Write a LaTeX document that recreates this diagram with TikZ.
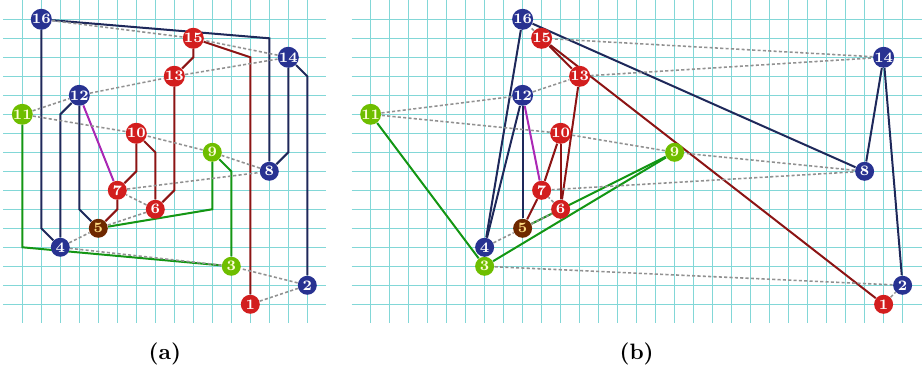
\documentclass[tikz,border=0pt]{standalone}
\usepackage{xcolor}
\usepackage{tikz}
\usetikzlibrary{backgrounds}
\definecolor{gridcyan}{RGB}{130, 215, 215}
\definecolor{navyedge}{RGB}{30, 40, 90}
\definecolor{navynode}{RGB}{40, 50, 145}
\definecolor{rededge}{RGB}{140, 20, 20}
\definecolor{rednode}{RGB}{210, 30, 30}
\definecolor{greenedge}{RGB}{20, 150, 20}
\definecolor{limenode}{RGB}{110, 190, 0}
\definecolor{brownnode}{RGB}{110, 40, 0}
\definecolor{purpleedge}{RGB}{170, 40, 180}
\definecolor{dotgray}{RGB}{145, 145, 145}
\definecolor{paleyellow}{RGB}{255, 220, 130}

\tikzset{
  vtx/.style={circle, inner sep=0pt, minimum size=0.3cm, text=white,
              font=\fontsize{6.5}{7}\selectfont\bfseries},
  navyvtx/.style={vtx, fill=navynode},
  redvtx/.style={vtx, fill=rednode},
  limevtx/.style={vtx, fill=limenode, text=white!85!yellow},
  brownvtx/.style={vtx, fill=brownnode, text=paleyellow},
  gridline/.style={draw=gridcyan, line width=0.45pt},
  tree/.style={line width=0.9pt},
  tour/.style={draw=dotgray, line width=0.7pt, dash pattern=on 1.4pt off 1pt},
}

\begin{document}
\begin{tikzpicture}[x=0.3cm, y=0.3cm]
  \useasboundingbox (-1.174,-18.56) rectangle (47.46,1.016);

  % (a) routed drawing
  \foreach \n/\c/\s in {1/12/redvtx, 2/15/navyvtx, 3/11/limevtx, 4/2/navyvtx,
      5/4/brownvtx, 6/7/redvtx, 7/5/redvtx, 8/13/navyvtx, 9/10/limevtx,
      10/6/redvtx, 11/0/limevtx, 12/3/navyvtx, 13/8/redvtx, 14/14/navyvtx,
      15/9/redvtx, 16/1/navyvtx}
    \node[\s] (a\n) at (\c,\n-16) {\n};
  \node[font=\bfseries] (capa) at (7.5,-17.6) {(a)};

  \begin{pgfonlayer}{background}
    \foreach \i in {0,...,15} \draw[gridline] (\i,1) -- (\i,-16);
    \foreach \j in {0,...,15} \draw[gridline] (-1,-\j) -- (16,-\j);
    % tree edges
    \draw[tree, navyedge] (a16) -- (a8 |- a15) -- (a8);
    \draw[tree, navyedge] (a16) -- (a16 |- a5) -- (a4);
    \draw[tree, navyedge] (a12) -- (a12 |- a6) -- (a5);
    \draw[tree, navyedge] (a12) -- (a4 |- a11) -- (a4);
    \draw[tree, navyedge] (a14) -- (a14 |- a9) -- (a8);
    \draw[tree, navyedge] (a14) -- (a2 |- a13) -- (a2);
    \draw[tree, rededge] (a15) -- (a1 |- a14) -- (a1);
    \draw[tree, rededge] (a15) -- (a15 |- a14) -- (a13);
    \draw[tree, rededge] (a13) -- (a13 |- a7) -- (a6);
    \draw[tree, rededge] (a10) -- (a6 |- a9) -- (a6);
    \draw[tree, rededge] (a10) -- (a10 |- a8) -- (a7);
    \draw[tree, rededge] (a7) -- (a7 |- a6) -- (a5);
    \draw[tree, purpleedge] (a12) -- (a7);
    \draw[tree, greenedge] (a11) -- (a11 |- a4) -- (a3);
    \draw[tree, greenedge] (a9) -- (a3 |- a8) -- (a3);
    \draw[tree, greenedge] (a9) -- (a9 |- a6) -- (a5);
    % tour
    \draw[tour] (a1) -- (a2) -- (a3) -- (a4) -- (a5) -- (a6) -- (a7) -- (a8)
      -- (a9) -- (a10) -- (a11) -- (a12) -- (a13) -- (a14) -- (a15) -- (a16);
  \end{pgfonlayer}

  % (b) straight-line drawing
  \begin{scope}[xshift=5.5cm]
    \foreach \n/\c/\s in {1/27/redvtx, 2/28/navyvtx, 3/6/limevtx, 4/6/navyvtx,
        5/8/brownvtx, 6/10/redvtx, 7/9/redvtx, 8/26/navyvtx, 9/16/limevtx,
        10/10/redvtx, 11/0/limevtx, 12/8/navyvtx, 13/11/redvtx, 14/27/navyvtx,
        15/9/redvtx, 16/8/navyvtx}
      \node[\s] (b\n) at (\c,\n-16) {\n};
    \node[font=\bfseries] (capb) at (14,-17.6) {(b)};

    \begin{pgfonlayer}{background}
      \foreach \i in {0,...,28} \draw[gridline] (\i,1) -- (\i,-16);
      \foreach \j in {0,...,15} \draw[gridline] (-1,-\j) -- (29,-\j);
      \foreach \u/\v in {16/8, 16/4, 12/5, 12/4, 14/8, 14/2}
        \draw[tree, navyedge] (b\u) -- (b\v);
      \foreach \u/\v in {15/1, 15/13, 13/6, 10/6, 10/7, 7/5}
        \draw[tree, rededge] (b\u) -- (b\v);
      \draw[tree, purpleedge] (b12) -- (b7);
      \foreach \u/\v in {11/3, 9/3, 9/5}
        \draw[tree, greenedge] (b\u) -- (b\v);
      \draw[tour] (b1) -- (b2) -- (b3) -- (b4) -- (b5) -- (b6) -- (b7) -- (b8)
        -- (b9) -- (b10) -- (b11) -- (b12) -- (b13) -- (b14) -- (b15) -- (b16);
    \end{pgfonlayer}
  \end{scope}
\end{tikzpicture}
\end{document}
